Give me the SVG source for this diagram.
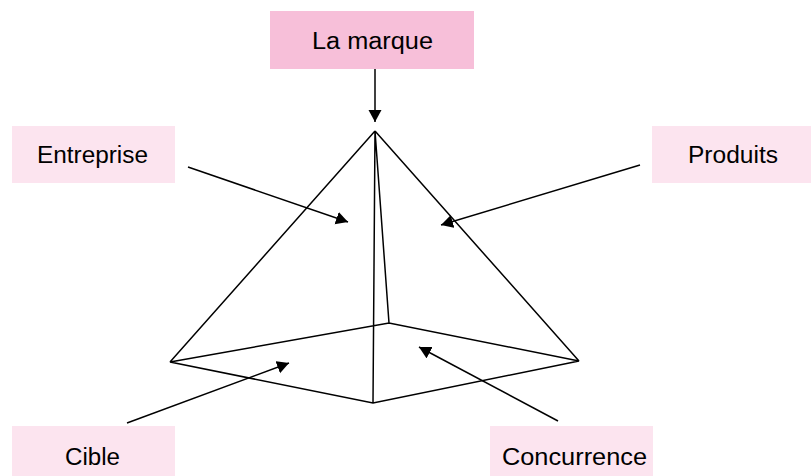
<svg xmlns="http://www.w3.org/2000/svg" width="811" height="476" viewBox="0 0 811 476">
<style>
.box{fill:#FCE4EF}
.boxd{fill:#F7BFD9}
.lbl{font-family:"Liberation Sans",Arial,sans-serif;font-size:23px;fill:#000}
.edge{stroke:#000;stroke-width:1.5;fill:none;stroke-linejoin:miter}
.arr{stroke:#000;stroke-width:1.5;fill:none}
</style>
<defs>
<marker id="ah" markerUnits="userSpaceOnUse" markerWidth="14" markerHeight="14" refX="12" refY="6.5" orient="auto">
<path d="M0,0 L12,6.5 L0,13 Z" fill="#000"/>
</marker>
</defs>
<rect width="811" height="476" fill="#fff"/>
<g id="pyramid">
<path class="edge" d="M375,131 L170,362 M375,131 L579,361 M375,131 L373,403 M375,131 L389,323 M170,362 L389,323 L579,361 L373,403 Z"/>
</g>
<g id="marque">
<rect class="boxd" x="270" y="11" width="204" height="58"/>
<text class="lbl" x="312" y="49" textLength="121" lengthAdjust="spacingAndGlyphs">La marque</text>
</g>
<g id="entreprise">
<rect class="box" x="12" y="126" width="163" height="57"/>
<text class="lbl" x="37" y="163" textLength="111" lengthAdjust="spacingAndGlyphs">Entreprise</text>
</g>
<g id="produits">
<rect class="box" x="652" y="126" width="159" height="57"/>
<text class="lbl" x="688" y="163" textLength="90" lengthAdjust="spacingAndGlyphs">Produits</text>
</g>
<g id="cible">
<rect class="box" x="12" y="426" width="163" height="50"/>
<text class="lbl" x="65" y="465" textLength="55" lengthAdjust="spacingAndGlyphs">Cible</text>
</g>
<g id="concurrence">
<rect class="box" x="490" y="426" width="163" height="50"/>
<text class="lbl" x="502" y="465" textLength="145" lengthAdjust="spacingAndGlyphs">Concurrence</text>
</g>
<g id="connectors">
<line class="arr" x1="375" y1="69" x2="375" y2="122" marker-end="url(#ah)"/>
<line class="arr" x1="188" y1="167" x2="348" y2="222" marker-end="url(#ah)"/>
<line class="arr" x1="640" y1="165" x2="441" y2="225" marker-end="url(#ah)"/>
<line class="arr" x1="127" y1="423" x2="289" y2="363" marker-end="url(#ah)"/>
<line class="arr" x1="558" y1="421" x2="419" y2="347" marker-end="url(#ah)"/>
</g>
</svg>
